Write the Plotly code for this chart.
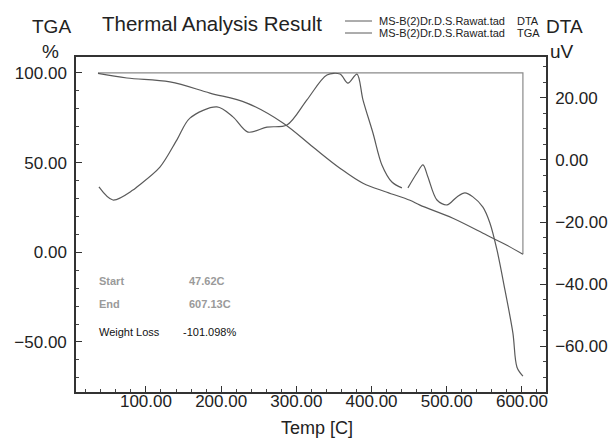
import plotly.graph_objects as go

# ---- data ----
tga_temp = [36.2, 74.7, 131.9, 185.1, 234.3, 282.2, 322.1, 358.0, 388.6, 420.5,
            451.1, 464.4, 508.2, 553.5, 580.0, 601.3]
tga_pct = [99.8, 97.2, 95.0, 88.8, 83.2, 72.1, 58.7, 46.9, 38.5, 33.5,
           29.0, 26.3, 19.0, 9.5, 3.9, -1.1]

dta_temp = [37.5, 56.1, 82.7, 88.0, 118.6, 141.2, 158.5, 194.4, 215.7, 235.6,
            260.9, 287.5, 314.1, 340.7, 358.0, 368.6, 380.6, 388.6, 401.9, 413.8,
            427.1, 440.4, None, 448.4, 460.4, 468.4, 475.0, 487.0, 500.3, 513.6,
            524.2, 534.8, 548.1, 557.4, 566.8, 577.4, 588.0, 593.4, 601.3]
dta_uv = [-8.7, -12.9, -9.7, -8.7, -2.3, 6.5, 13.5, 17.1, 13.9, 9.0,
          10.6, 11.3, 19.4, 27.4, 27.7, 24.8, 27.7, 19.4, 8.7, -1.6,
          -7.1, -9.0, None, -9.0, -4.2, -1.6, -5.5, -12.9, -14.5, -11.9,
          -10.6, -11.9, -15.2, -20.3, -29.0, -41.9, -55.8, -66.8, -69.7]

# weight-loss marker lines (start level and end marker)
wl_temp = [36.2, 601.3, 601.3]
wl_pct = [100.0, 100.0, -1.1]

x_ticks = [100, 200, 300, 400, 500, 600]
legend_names = ["MS-B(2)Dr.D.S.Rawat.tad", "MS-B(2)Dr.D.S.Rawat.tad"]
legend_tags = ["DTA", "TGA"]
info_labels = ["Start", "End", "Weight Loss"]
info_values = ["47.62C", "607.13C", "-101.098%"]

FONT = "Liberation Sans, Arial, sans-serif"
LINE = "#5a5a5a"

fig = go.Figure()
fig.add_trace(go.Scatter(x=wl_temp, y=wl_pct, mode="lines",
                         line=dict(color="#8a8a8a", width=1.2),
                         showlegend=False, hoverinfo="skip"))
fig.add_trace(go.Scatter(x=tga_temp, y=tga_pct, mode="lines",
                         line=dict(color=LINE, width=1.2, shape="spline", smoothing=1.0),
                         showlegend=False))
fig.add_trace(go.Scatter(x=dta_temp, y=dta_uv, mode="lines", yaxis="y2",
                         connectgaps=False,
                         line=dict(color=LINE, width=1.2, shape="spline", smoothing=0.9),
                         showlegend=False))

L, R, T, B = 76, 62, 57, 47
W, H = 608, 439
pw, ph = W - L - R, H - T - B


def px(xp):
    return (xp - L) / pw


def py(yp):
    return (H - B - yp) / ph


axis_common = dict(showline=True, linecolor="#333", linewidth=1.5,
                   ticks="inside", ticklen=6, tickcolor="#333", tickwidth=1,
                   showgrid=False, zeroline=False, automargin=False,
                   tickfont=dict(family=FONT, size=17, color="#222"))
minor_common = dict(ticks="inside", ticklen=3, tickcolor="#444", tickwidth=1,
                    showgrid=False)

fig.update_layout(
    template="none",
    width=W, height=H,
    margin=dict(l=L, r=R, t=T, b=B),
    paper_bgcolor="white", plot_bgcolor="white",
    font=dict(family=FONT, color="#222"),
    xaxis=dict(range=[7, 632], tickvals=x_ticks, tickformat=".2f",
               mirror=True, ticklabelstandoff=-7,
               minor=dict(tickvals=list(range(20, 632, 20)), **minor_common),
               **axis_common),
    yaxis=dict(range=[-77.9, 108.9], tickvals=[-50, 0, 50, 100], tickformat=".2f",
               ticklabelstandoff=4,
               minor=dict(tickvals=list(range(-70, 110, 10)), **minor_common),
               **axis_common),
    yaxis2=dict(range=[-74.8, 33.2], tickvals=[-60, -40, -20, 0, 20], tickformat=".2f",
                overlaying="y", side="right", ticklabelstandoff=4,
                minor=dict(tickvals=list(range(-70, 35, 5)), **minor_common),
                **axis_common),
    showlegend=False,
)

ann = []
ann.append(dict(text="Thermal Analysis Result", x=px(100), y=py(24), xanchor="left",
                yanchor="middle", font=dict(size=20.5, color="#222")))
ann.append(dict(text="TGA", x=px(51), y=py(27), xanchor="center", yanchor="middle",
                font=dict(size=19, color="#222")))
ann.append(dict(text="%", x=px(50), y=py(51), xanchor="center", yanchor="middle",
                font=dict(size=19, color="#222")))
ann.append(dict(text="DTA", x=px(564), y=py(27), xanchor="center", yanchor="middle",
                font=dict(size=19, color="#222")))
ann.append(dict(text="uV", x=px(562), y=py(51), xanchor="center", yanchor="middle",
                font=dict(size=19, color="#222")))
ann.append(dict(text="Temp [C]", x=px(317), y=py(428), xanchor="center", yanchor="middle",
                font=dict(size=18, color="#222")))

shapes = []
for i, (nm, tag) in enumerate(zip(legend_names, legend_tags)):
    yy = 21 + 12 * i
    shapes.append(dict(type="line", xref="paper", yref="paper",
                       x0=px(345), x1=px(372), y0=py(yy), y1=py(yy),
                       line=dict(color=LINE, width=1)))
    ann.append(dict(text=nm, x=px(377), y=py(yy), xanchor="left", yanchor="middle",
                    font=dict(size=11, color="#222")))
    ann.append(dict(text=tag, x=px(515), y=py(yy), xanchor="left", yanchor="middle",
                    font=dict(size=11, color="#222")))

info_y = [281, 304, 332]
for i, (lab, val) in enumerate(zip(info_labels, info_values)):
    col = "#9a9a9a" if i < 2 else "#111"
    bold = i < 2
    ann.append(dict(text=f"<b>{lab}</b>" if bold else lab, x=px(97), y=py(info_y[i]),
                    xanchor="left", yanchor="middle", font=dict(size=11, color=col)))
    ann.append(dict(text=f"<b>{val}</b>" if bold else val,
                    x=px(187 if i < 2 else 181), y=py(info_y[i]),
                    xanchor="left", yanchor="middle", font=dict(size=11, color=col)))

for a in ann:
    a.update(xref="paper", yref="paper", showarrow=False)
fig.update_layout(annotations=ann, shapes=shapes)

fig.write_html("out.html")
